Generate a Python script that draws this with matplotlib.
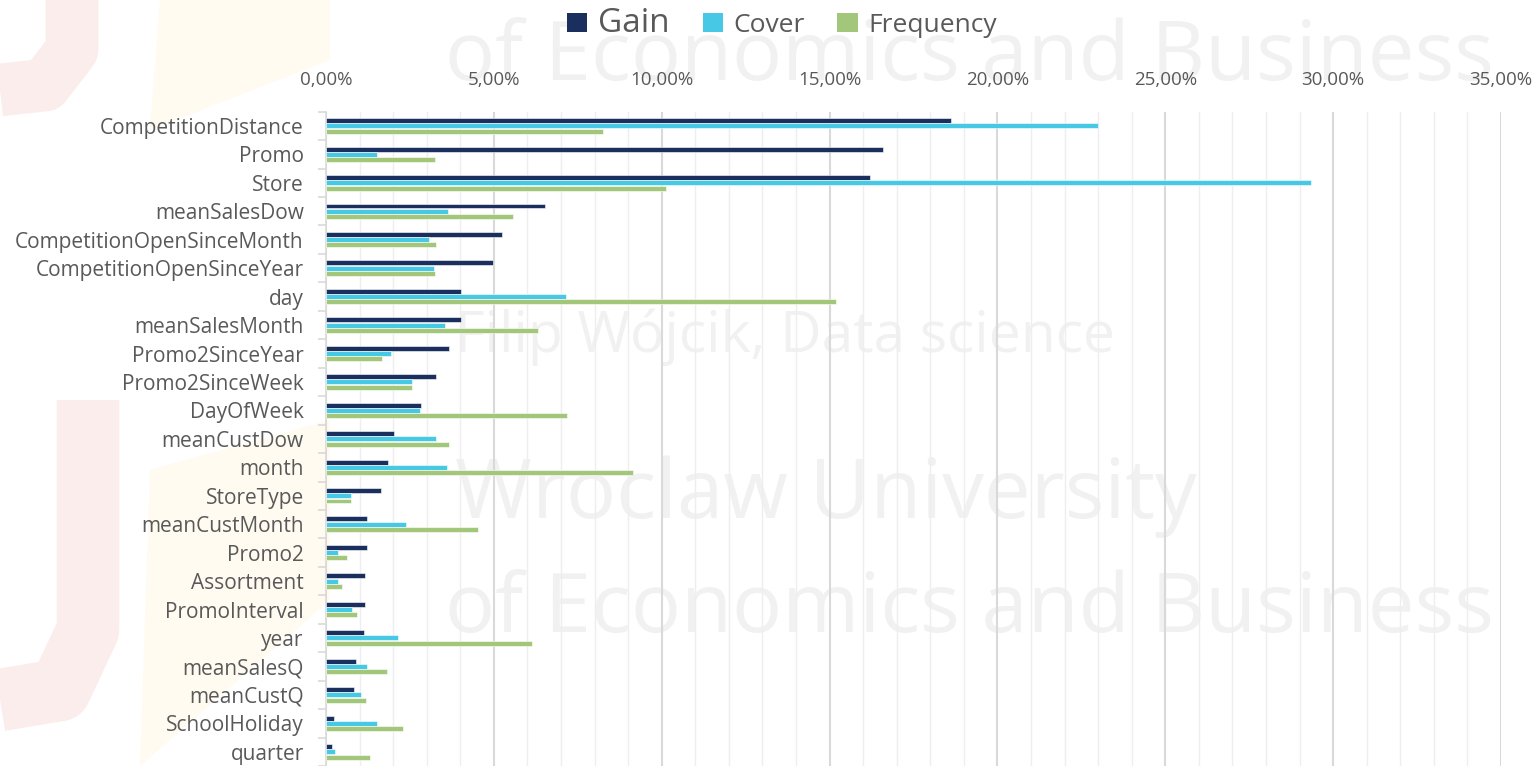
import matplotlib.pyplot as plt
import numpy as np
from matplotlib.patches import Patch, Polygon
from matplotlib.ticker import MultipleLocator, FuncFormatter

# Dane (procent udziału cechy)
features = ["CompetitionDistance", "Promo", "Store", "meanSalesDow",
            "CompetitionOpenSinceMonth", "CompetitionOpenSinceYear", "day",
            "meanSalesMonth", "Promo2SinceYear", "Promo2SinceWeek", "DayOfWeek",
            "meanCustDow", "month", "StoreType", "meanCustMonth", "Promo2",
            "Assortment", "PromoInterval", "year", "meanSalesQ", "meanCustQ",
            "SchoolHoliday", "quarter"]
gain = [18.63, 16.60, 16.19, 6.53, 5.25, 4.98, 4.02, 4.02, 3.66, 3.28, 2.83,
        2.03, 1.86, 1.65, 1.23, 1.23, 1.17, 1.17, 1.12, 0.89, 0.82, 0.23, 0.19]
cover = [22.99, 1.52, 29.34, 3.64, 3.06, 3.22, 7.16, 3.54, 1.95, 2.57, 2.80,
         3.29, 3.61, 0.74, 2.39, 0.37, 0.37, 0.78, 2.15, 1.21, 1.05, 1.53, 0.26]
frequency = [8.26, 3.25, 10.14, 5.58, 3.29, 3.25, 15.20, 6.32, 1.67, 2.57, 7.17,
             3.66, 9.13, 0.74, 4.53, 0.63, 0.48, 0.92, 6.14, 1.82, 1.19, 2.28, 1.30]

series_names = ["Gain", "Cover", "Frequency"]
colors = ["#1B2F5E", "#47C9E6", "#A3C77A"]
txt = "#595959"

plt.rcParams['font.family'] = ['Open Sans', 'DejaVu Sans']

fig = plt.figure(figsize=(15.4, 7.66), dpi=100)

# tło: logo i znak wodny (w pikselach)
bg = fig.add_axes([0, 0, 1, 1], zorder=-1)
bg.set_xlim(0, 1540)
bg.set_ylim(766, 0)
bg.axis("off")
pink = "#FCEDED"
yellow = "#FFFBF0"
bg.add_patch(Polygon([(140, 766), (330, 600), (330, 420), (150, 470)],
                     closed=True, color=yellow, lw=0))
bg.add_patch(Polygon([(150, 130), (330, 60), (330, 0), (160, 0)],
                     closed=True, color=yellow, lw=0))
bg.plot([88, 88, 60, 0], [400, 630, 690, 700], color=pink, lw=45,
        solid_capstyle="butt", solid_joinstyle="round")
bg.plot([72, 72, 45, 0], [0, 50, 85, 90], color=pink, lw=38,
        solid_capstyle="butt", solid_joinstyle="round")
wm = "#F1F1F1"
bg.text(445, 80, "of Economics and Business", fontsize=60,
        color=wm, va="baseline")
bg.text(455, 352, "Filip Wójcik, Data science", fontsize=41,
        color=wm, va="baseline")
bg.text(455, 518, "Wroclaw University", fontsize=60,
        color=wm, va="baseline")
bg.text(445, 632, "of Economics and Business", fontsize=60,
        color=wm, va="baseline")

ax = fig.add_axes([326 / 1540, 0, (1501 - 326) / 1540, 1 - 111.7 / 766])
ax.patch.set_alpha(0)

y = np.arange(len(features))
h = 0.175
for off, vals, name, c in zip([-0.185, 0, 0.185], [gain, cover, frequency],
                              series_names, colors):
    ax.barh(y + off, vals, height=h, color=c, edgecolor="white",
            linewidth=0.4, label=name, zorder=3)

ax.set_xlim(0, 35)
ax.set_ylim(len(features) - 0.5, -0.5)

ax.xaxis.tick_top()
ax.xaxis.set_major_locator(MultipleLocator(5))
ax.xaxis.set_minor_locator(MultipleLocator(1))
ax.xaxis.set_major_formatter(FuncFormatter(lambda v, p: f"{v:.2f}%".replace(".", ",")))
ax.grid(axis="x", which="major", color="#D9D9D9", lw=1.5)
ax.grid(axis="x", which="minor", color="#EEEEEE", lw=1)
ax.set_axisbelow(True)
ax.tick_params(axis="x", which="both", length=0, pad=16, labelsize=13.5,
               labelcolor=txt)

ax.set_yticks(y)
ax.set_yticklabels(features)
ax.set_yticks(np.arange(len(features) + 1) - 0.5, minor=True)
ax.tick_params(axis="y", which="major", length=0, pad=16, labelsize=15,
               labelcolor=txt)
ax.tick_params(axis="y", which="minor", length=6, color="#D9D9D9", width=1.2)

for s in ["top", "right", "bottom"]:
    ax.spines[s].set_visible(False)
ax.spines["left"].set_color("#D9D9D9")
ax.spines["left"].set_linewidth(1.2)

handles = [Patch(facecolor=c, edgecolor="none") for c in colors]
leg = fig.legend(handles, series_names, loc="upper center",
                 bbox_to_anchor=(782 / 1540, 1.022), ncol=3, frameon=False,
                 fontsize=19, handlelength=0.76, handleheight=0.76,
                 handletextpad=0.4, columnspacing=1.25)
for t in leg.get_texts():
    t.set_color(txt)
leg.get_texts()[0].set_fontsize(24)

fig.savefig("out.png", dpi=100)
